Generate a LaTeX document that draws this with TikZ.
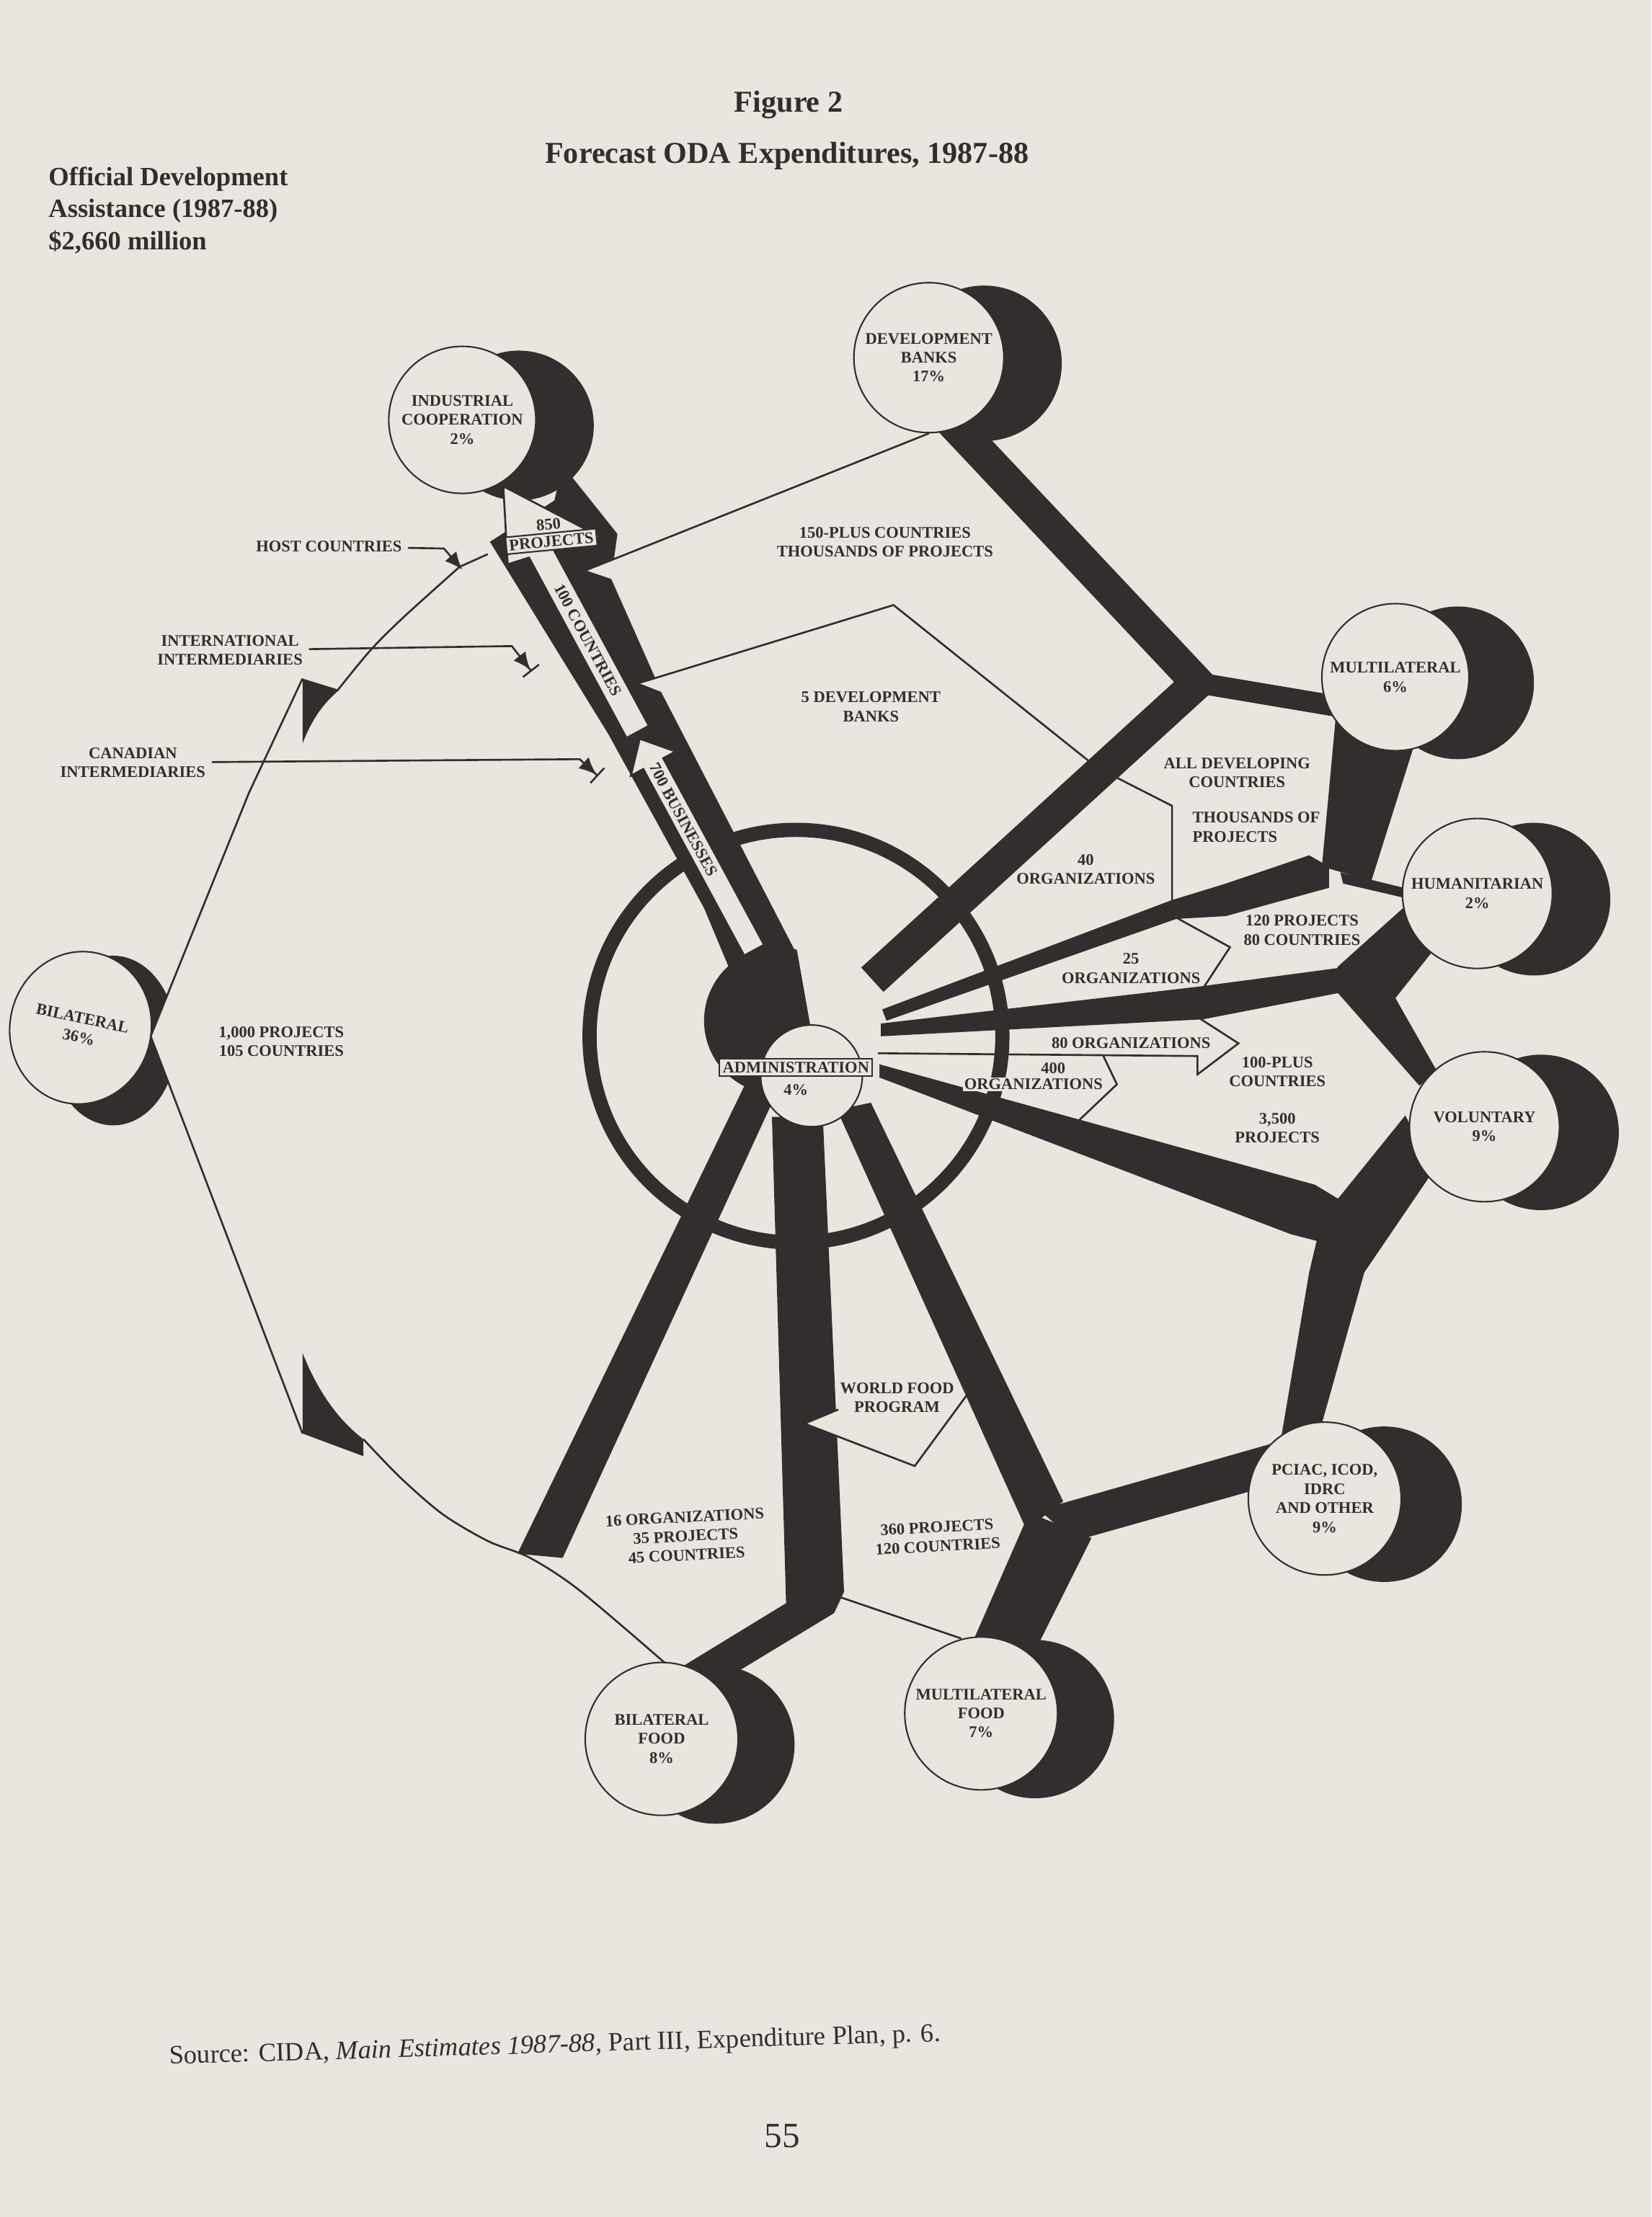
\documentclass[tikz,border=0pt]{standalone}
\usepackage{fontspec}
\setmainfont{Liberation Serif}
\usetikzlibrary{arrows.meta,shapes.geometric}
\definecolor{paper}{RGB}{232,230,223}
\definecolor{ink}{RGB}{50,46,45}
\newcommand\labfont{\fontsize{6.4}{7.5}\selectfont\bfseries}
\tikzset{
  lab/.style={font=\labfont, align=center, text=ink, inner sep=0pt, outer sep=2.5pt},
  disc/.style={circle, draw=ink, line width=0.6pt, fill=paper, inner sep=0pt, minimum size=#1, font=\labfont, align=center, text=ink},
  thinl/.style={draw=ink, line width=0.75pt},
  lead/.style={thinl, -{Latex[length=7pt,width=6pt]Bar[width=8pt]}},
  warrow/.style={fill=paper, draw=ink, line width=0.75pt},
}
\begin{document}
\begin{tikzpicture}[x=0.019615cm, y=-0.019615cm]
\fill[paper] (0,0) rectangle (1168,1568.2);
\useasboundingbox (0,0) rectangle (1168,1568.2);

% centres
\coordinate (pIC) at (327,297);
\coordinate (pDB) at (657,253);
\coordinate (pML) at (987,479);
\coordinate (pHU) at (1045,632);
\coordinate (pVO) at (1050,797);
\coordinate (pPC) at (937,1060);
\coordinate (pMF) at (694,1212);
\coordinate (pBF) at (468,1230);
\coordinate (pBI) at (57,727);
\coordinate (pAD) at (574,761);
\coordinate (pRing) at (563,733);
\coordinate (jDB) at (847,483);
\coordinate (aDB) at (617,693);
\coordinate (jPC) at (745,1075);

% shadows
\foreach \c/\dx/\r in {pIC/40/53, pDB/39/55, pML/44/54, pHU/40/54, pVO/40/55, pPC/42/55, pMF/38/56, pBF/38/56}
  \fill[ink] (\c) ++(\dx,4) circle[radius=\r];
\fill[ink] (80,736) ellipse[x radius=45, y radius=60];

% industrial band
\begin{scope}[shift={(356,344)}, rotate=-61.6, yscale=-1]
\fill[ink] (30,-27) -- (190,-18) -- (330,-17) -- (400,-24) -- (400,25) -- (181,29) -- (168,18) -- (171,30)
  -- (94,36) -- (80,23) -- (83,44) -- (68,55) -- (7,44) -- (26,27) -- cycle;
\coordinate (nA) at (80,23);
\coordinate (nB) at (168,18);
\end{scope}

% upper right bands
\draw[ink, line width=13pt] (670,295) -- (jDB) -- (aDB);
\draw[ink, line width=8.3pt] (jDB) -- (960,502);
\fill[ink] (945,505) -- (1005,512) -- (970,623) -- (935,613) -- cycle;
\fill[ink] (624,714) -- (828,637) -- (867,625) -- (926,605) -- (940,613) -- (940,628) -- (867,648) -- (832,650) -- (627,722) -- cycle;
\fill[ink] (948,617) -- (993,628) -- (993,635) -- (950,625) -- cycle;
\fill[ink] (623,724) -- (847,698) -- (952,684) -- (954,701) -- (851,721) -- (623,733) -- cycle;
\fill[ink] (946,684) -- (995,640) -- (1014,672) -- (987,706) -- (1016,757) -- (1004,768) -- (946,702) -- cycle;
\fill[ink] (619,752) -- (930,838) -- (950,850) -- (940,880) -- (913,873) -- (619,761) -- cycle;
\fill[ink] (994,789) -- (1014,828) -- (965,900) -- (933,1014) -- (906,1018) -- (926,900) -- (935,862) -- cycle;

% lower bands
\fill[ink] (528,765) -- (553,765) -- (398,1102) -- (366,1099) -- cycle;
\fill[ink] (546,790) -- (582,790) -- (597,1126) -- (590,1141) -- (496,1198) -- (484,1178) -- (556,1134) -- cycle;
\fill[ink] (592,785) -- (616,780) -- (752,1062) -- (726,1082) -- cycle;
\fill[ink] (735,1068) -- (900,1021) -- (905,1049) -- (760,1090) -- cycle;
\fill[ink] (728,1070) -- (772,1088) -- (730,1172) -- (686,1166) -- cycle;

% ring and administration shadow
\draw[ink, line width=5.6pt] (pRing) circle[radius=146];
\fill[ink] (550,722) circle[radius=52];
\fill[paper] (563,668) -- (598,680) -- (612,698) -- (622,712) -- (622,762) -- (598,764) -- (574,730) -- cycle;

% white arrows
\fill[paper] (106.6,733) -- (146,636) -- (146,836) -- cycle;
\begin{scope}[shift={(356,344)}, rotate=-61.6, yscale=-1]
\draw[warrow] (0,0) -- (64.5,43.6) -- (57,10) -- (198,10) -- (198,-8) -- (53,-8) -- (50,-23.5) -- cycle;
\draw[warrow] (203,0) -- (223,18) -- (223,8) -- (373,8) -- (373,-8) -- (223,-8) -- (223,-18) -- cycle;
\node[lab, rotate=-61.6] (t100c) at (124,1) {100 COUNTRIES};
\node[lab, rotate=-61.6] (t700b) at (268,0) {700 BUSINESSES};
\end{scope}
\fill[paper] (569,1007) -- (593,997) -- (593,1016) -- cycle;

% circles
\node[disc=2.04cm] (indc) at (pIC) {INDUSTRIAL\\COOPERATION\\2\%};
\node[disc=2.08cm] (dbk) at (pDB) {DEVELOPMENT\\BANKS\\17\%};
\node[disc=2.04cm] (mul) at (pML) {MULTILATERAL\\6\%};
\node[disc=2.08cm] (hum) at (pHU) {HUMANITARIAN\\2\%};
\node[disc=2.08cm] (vol) at (pVO) {VOLUNTARY\\9\%};
\node[disc=2.12cm] (pci) at (pPC) {PCIAC, ICOD,\\IDRC\\AND OTHER\\9\%};
\node[disc=2.12cm] (mfd) at (pMF) {MULTILATERAL\\FOOD\\7\%};
\node[disc=2.12cm] (bfd) at (pBF) {BILATERAL\\FOOD\\8\%};
\node[ellipse, draw=ink, line width=0.6pt, fill=paper, inner sep=0pt, minimum width=1.96cm, minimum height=2.12cm,
  font=\labfont, align=center, text=ink, rotate=-12] (bil) at (pBI) {BILATERAL\\36\%};
\node[disc=1.41cm] (adm) at (pAD) {};
\node[lab, fill=paper, draw=ink, line width=0.6pt, inner sep=1.2pt, outer sep=0pt] (admbox) at (563,755) {ADMINISTRATION};
\node[lab] (admpc) at (563,771) {4\%};

% thin outlines
\draw[thinl] (nA) -- (dbk.south);
\draw[thinl] (nB) -- (632,428) -- (776,543) -- (829,570) -- (829,643);
\draw[thinl] (830,648) -- (870,670) -- (851,699);
\draw[thinl] (621,745) -- (847,747) -- (847,760) -- (876,738) -- (848,720);
\draw[thinl] (780,746) -- (790,767) -- (750,805);
\draw[thinl] (593,997) -- (569,1007) -- (647,1037) -- (694,973);
\draw[thinl] (595,1130) -- (680,1159);
\draw[thinl] (214,480) -- (176,561) -- (106.6,733) -- (214,1014);
\fill[ink] (214,480) -- (240,488) .. controls (228,498) and (220,510) .. (214,526) -- cycle;
\fill[ink] (214,957) .. controls (225,985) and (240,1005) .. (257,1018) -- (257,1030) -- (214,1014) -- cycle;
\draw[thinl] plot[smooth] coordinates {(239,488) (262,460) (285,437) (325,401)} -- (345,392);
\draw[thinl] plot[smooth] coordinates {(257,1018) (283,1045) (313,1071) (345,1090) (375,1102) (410,1125) (470,1176)};

% counts on the industrial arrow head
\node[lab, rotate=5.5] (p850) at (388,371) {850};
\node[lab, rotate=5.5, fill=paper, draw=ink, line width=0.6pt, inner sep=1.2pt, outer sep=0pt] (p850b) at (390,383) {PROJECTS};

% side labels with leaders
\node[lab] (hostc) at (232.7,386.5) {HOST COUNTRIES};
\node[lab] (intl) at (162.7,460) {INTERNATIONAL\\INTERMEDIARIES};
\node[lab] (canl) at (94,539.5) {CANADIAN\\INTERMEDIARIES};
\draw[thinl, -{Latex[length=7pt,width=6pt]}] (hostc) -- (314,388) -- (327,403);
\draw[lead] (intl) -- (362,457) -- (376,475);
\draw[lead] (canl) -- (410,537) -- (423,549);

% region labels
\node[lab] (t150) at (626,383.5) {150-PLUS COUNTRIES\\THOUSANDS OF PROJECTS};
\node[lab] (t5db) at (616,500) {5 DEVELOPMENT\\BANKS};
\node[lab] (tall) at (875,546.6) {ALL DEVELOPING\\COUNTRIES};
\node[lab, align=left, anchor=west] (tthou) at (839,585) {THOUSANDS OF\\PROJECTS};
\node[lab] (t40) at (768,615) {40\\ORGANIZATIONS};
\node[lab] (t120) at (921,658) {120 PROJECTS\\80 COUNTRIES};
\node[lab] (t25) at (800,685) {25\\ORGANIZATIONS};
\node[lab] (t80) at (800,738) {80 ORGANIZATIONS};
\node[lab] (t400a) at (745,755.5) {400};
\node[lab, fill=paper, inner sep=0.6pt] (t400b) at (731,767) {ORGANIZATIONS};
\node[lab] (t100p) at (903.5,758) {100-PLUS\\COUNTRIES};
\node[lab] (t3500) at (903.5,798) {3,500\\PROJECTS};
\node[lab] (twfp) at (634.5,988.6) {WORLD FOOD\\PROGRAM};
\node[lab, rotate=3] (t16) at (485,1086.6) {16 ORGANIZATIONS\\35 PROJECTS\\45 COUNTRIES};
\node[lab, rotate=3] (t360) at (663,1087) {360 PROJECTS\\120 COUNTRIES};
\node[lab] (t1000) at (199,736.6) {1,000 PROJECTS\\105 COUNTRIES};

% page texts
\node[text=ink, font=\fontsize{12}{14}\selectfont\bfseries] (fig) at (557.8,74) {Figure 2};
\node[text=ink, font=\fontsize{12}{14}\selectfont\bfseries] (ttl) at (556.6,110.5) {Forecast ODA Expenditures, 1987-88};
\node[text=ink, font=\fontsize{10.4}{12.7}\selectfont\bfseries, align=left, anchor=west, inner sep=0pt] (oda) at (34,148.7)
  {Official Development\\Assistance (1987-88)\\\$2,660 million};
\node[text=ink, font=\fontsize{10.4}{12}\selectfont, rotate=1.7] (src) at (392.6,1447.5)
  {Source: CIDA, \textit{Main Estimates 1987-88,} Part III, Expenditure Plan, p. 6.};
\node[text=ink, font=\fontsize{14}{16}\selectfont] (pg) at (553.4,1510.8) {55};
\end{tikzpicture}
\end{document}
